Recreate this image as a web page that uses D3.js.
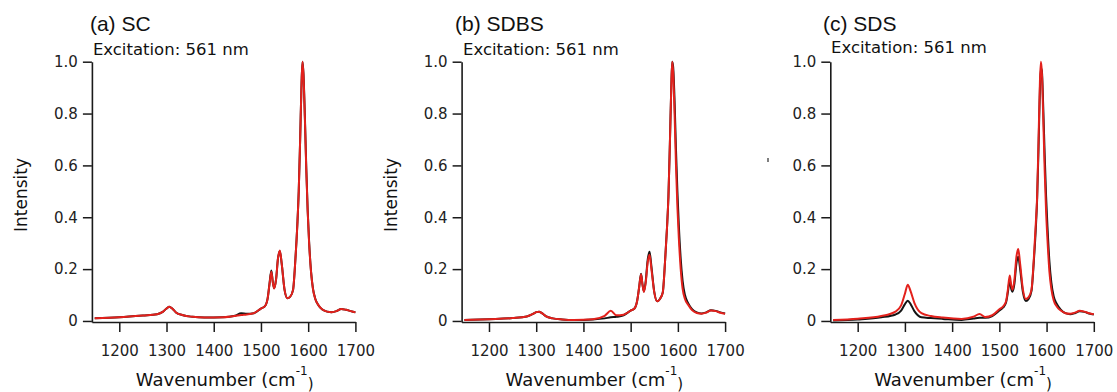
<!DOCTYPE html>
<html>
<head>
<meta charset="utf-8">
<script src="https://cdn.jsdelivr.net/npm/d3@7"></script>
<style>
  html, body { margin: 0; padding: 0; background: #fff; }
  svg { display: block; }
</style>
</head>
<body>
<svg id="chart" width="1117" height="392"></svg>
<script>
// ---------------- data ----------------
const panelTitles = ["(a) SC", "(b) SDBS", "(c) SDS"];
const excitationText = "Excitation: 561 nm";
const xTickValues = [1200, 1300, 1400, 1500, 1600, 1700];
const yTickValues = [0, 0.2, 0.4, 0.6, 0.8, 1.0];
const yTickLabels = ["0", "0.2", "0.4", "0.6", "0.8", "1.0"];

const wavenumber = [1148, 1200, 1250, 1280, 1292, 1300, 1306, 1312, 1320, 1335, 1355, 1380, 1420, 1445, 1458, 1470, 1485, 1500, 1508, 1514, 1518, 1522, 1525, 1528, 1532, 1536, 1540, 1544, 1550, 1556, 1562, 1568, 1573, 1577, 1580, 1583, 1586, 1588, 1590, 1593, 1596, 1599, 1602, 1606, 1610, 1615, 1622, 1630, 1640, 1650, 1660, 1670, 1680, 1690, 1700];

// (a) SC
const scRed   = [0.010, 0.014, 0.021, 0.026, 0.035, 0.048, 0.055, 0.048, 0.033, 0.022, 0.016, 0.013, 0.014, 0.019, 0.023, 0.025, 0.030, 0.048, 0.056, 0.085, 0.140, 0.190, 0.150, 0.125, 0.160, 0.240, 0.272, 0.220, 0.120, 0.088, 0.094, 0.120, 0.240, 0.370, 0.500, 0.700, 0.920, 1.000, 0.950, 0.780, 0.580, 0.420, 0.300, 0.190, 0.125, 0.085, 0.060, 0.044, 0.036, 0.034, 0.038, 0.046, 0.043, 0.038, 0.033];
const scBlack = [0.010, 0.014, 0.021, 0.026, 0.035, 0.048, 0.055, 0.048, 0.033, 0.022, 0.016, 0.013, 0.014, 0.020, 0.030, 0.028, 0.030, 0.048, 0.056, 0.085, 0.142, 0.195, 0.152, 0.126, 0.160, 0.240, 0.270, 0.220, 0.120, 0.088, 0.094, 0.120, 0.240, 0.370, 0.500, 0.700, 0.920, 1.000, 0.955, 0.790, 0.590, 0.425, 0.305, 0.192, 0.127, 0.086, 0.060, 0.044, 0.036, 0.034, 0.038, 0.046, 0.043, 0.038, 0.033];

// (b) SDBS
const sdbsRed   = [0.004, 0.007, 0.011, 0.017, 0.026, 0.034, 0.036, 0.030, 0.019, 0.010, 0.006, 0.004, 0.007, 0.020, 0.039, 0.022, 0.024, 0.040, 0.048, 0.080, 0.130, 0.180, 0.140, 0.112, 0.150, 0.225, 0.255, 0.200, 0.110, 0.076, 0.085, 0.110, 0.235, 0.360, 0.480, 0.680, 0.900, 1.000, 0.960, 0.800, 0.600, 0.440, 0.320, 0.200, 0.125, 0.085, 0.062, 0.042, 0.031, 0.028, 0.032, 0.040, 0.038, 0.032, 0.028];
const sdbsBlack = [0.004, 0.007, 0.011, 0.017, 0.026, 0.034, 0.036, 0.030, 0.019, 0.010, 0.006, 0.004, 0.006, 0.010, 0.014, 0.016, 0.022, 0.040, 0.048, 0.080, 0.130, 0.182, 0.142, 0.114, 0.155, 0.235, 0.267, 0.210, 0.112, 0.076, 0.085, 0.110, 0.235, 0.360, 0.480, 0.680, 0.900, 1.000, 0.980, 0.850, 0.660, 0.500, 0.370, 0.240, 0.155, 0.100, 0.068, 0.046, 0.033, 0.029, 0.033, 0.041, 0.039, 0.033, 0.029];

// (c) SDS
const sdsRed   = [0.004, 0.009, 0.019, 0.036, 0.060, 0.105, 0.140, 0.115, 0.070, 0.030, 0.019, 0.013, 0.008, 0.016, 0.027, 0.015, 0.022, 0.045, 0.056, 0.075, 0.120, 0.175, 0.140, 0.120, 0.160, 0.245, 0.278, 0.220, 0.120, 0.085, 0.092, 0.120, 0.240, 0.370, 0.480, 0.700, 0.930, 1.000, 0.960, 0.780, 0.580, 0.420, 0.310, 0.190, 0.125, 0.080, 0.055, 0.040, 0.030, 0.028, 0.032, 0.039, 0.036, 0.030, 0.026];
const sdsBlack = [0.002, 0.006, 0.014, 0.025, 0.040, 0.065, 0.078, 0.065, 0.038, 0.014, 0.011, 0.008, 0.004, 0.009, 0.012, 0.012, 0.019, 0.040, 0.052, 0.070, 0.110, 0.158, 0.125, 0.113, 0.145, 0.220, 0.248, 0.200, 0.110, 0.077, 0.085, 0.115, 0.230, 0.350, 0.470, 0.670, 0.900, 0.975, 0.965, 0.820, 0.640, 0.480, 0.360, 0.230, 0.150, 0.095, 0.065, 0.044, 0.030, 0.026, 0.030, 0.037, 0.035, 0.029, 0.025];

const redSeries = [scRed, sdbsRed, sdsRed];
const blackSeries = [scBlack, sdbsBlack, sdsBlack];

// ---------------- layout ----------------
const panelLeft = [91.9, 461.6, 830.3];
const plotWidth = 263.5;
const plotTop = 61.7, plotBottom = 322;
const titleDx = [-2, -6.6, -7.3];
const titleY = [31, 31, 30.5];
const excDx = [1, 1.4, 0.7];
const excY = [55, 54.5, 52.5];
const showYLabel = [true, true, false];

const RED = "#e3211c";
const BLACK = "#141414";
const FONT = "'DejaVu Sans', Verdana, sans-serif";
const TITLE_FONT = "'Liberation Sans', Arial, Helvetica, sans-serif";

const svg = d3.select("#chart");

panelTitles.forEach((title, i) => {
  const x0 = panelLeft[i];
  const x = d3.scaleLinear().domain([1142, 1700]).range([x0, x0 + plotWidth]);
  const y = d3.scaleLinear().domain([-0.004, 1.0]).range([plotBottom, plotTop]);

  const g = svg.append("g");

  const line = d3.line()
    .x((d, k) => x(wavenumber[k]))
    .y(d => y(d))
    .curve(d3.curveMonotoneX);

  // black first, red on top
  g.append("path").datum(blackSeries[i])
    .attr("d", line).attr("fill", "none")
    .attr("stroke", BLACK).attr("stroke-width", 2).attr("stroke-linejoin", "round");
  g.append("path").datum(redSeries[i])
    .attr("d", line).attr("fill", "none")
    .attr("stroke", RED).attr("stroke-width", 2).attr("stroke-linejoin", "round");

  // axes
  const xAxis = d3.axisBottom(x).tickValues(xTickValues).tickSize(10).tickSizeOuter(0).tickPadding(13)
    .tickFormat(d3.format("d"));
  const yAxis = d3.axisLeft(y).tickValues(yTickValues).tickSize(9).tickSizeOuter(0).tickPadding(5)
    .tickFormat((d, k) => yTickLabels[k]);

  const gx = g.append("g").attr("transform", `translate(0,${plotBottom})`).call(xAxis);
  const gy = g.append("g").attr("transform", `translate(${x0},0)`).call(yAxis);
  [gx, gy].forEach(a => {
    a.selectAll("path.domain").attr("stroke", "#1a1a1a").attr("stroke-width", 1.6);
    a.selectAll(".tick line").attr("stroke", "#1a1a1a").attr("stroke-width", 1.5);
    a.selectAll(".tick text").attr("fill", "#222").style("font-family", FONT).style("font-size", "15px");
  });

  // titles
  g.append("text").attr("x", x0 + titleDx[i]).attr("y", titleY[i])
    .style("font-family", TITLE_FONT).style("font-size", "21px").attr("fill", "#111")
    .text(title);
  g.append("text").attr("x", x0 + excDx[i]).attr("y", excY[i])
    .style("font-family", FONT).style("font-size", "16.5px").attr("fill", "#111")
    .text(excitationText);

  // x label
  const xl = g.append("text").attr("x", x0 + plotWidth / 2 + 1).attr("y", 386)
    .attr("text-anchor", "middle")
    .style("font-family", FONT).style("font-size", "18px").attr("fill", "#111");
  xl.append("tspan").text("Wavenumber (cm");
  xl.append("tspan").attr("dy", -11).style("font-size", "12px").text("-1");
  xl.append("tspan").attr("dy", 14).style("font-size", "15px").text(")");

  // y label
  if (showYLabel[i]) {
    g.append("text")
      .attr("transform", `translate(${x0 - 65},195) rotate(-90)`)
      .attr("text-anchor", "middle")
      .style("font-family", FONT).style("font-size", "17px").attr("fill", "#111")
      .text("Intensity");
  }
});

// small stray mark left of panel (c)
svg.append("line").attr("x1", 768).attr("x2", 768).attr("y1", 158).attr("y2", 162)
  .attr("stroke", "#555").attr("stroke-width", 1.5);
</script>
</body>
</html>
